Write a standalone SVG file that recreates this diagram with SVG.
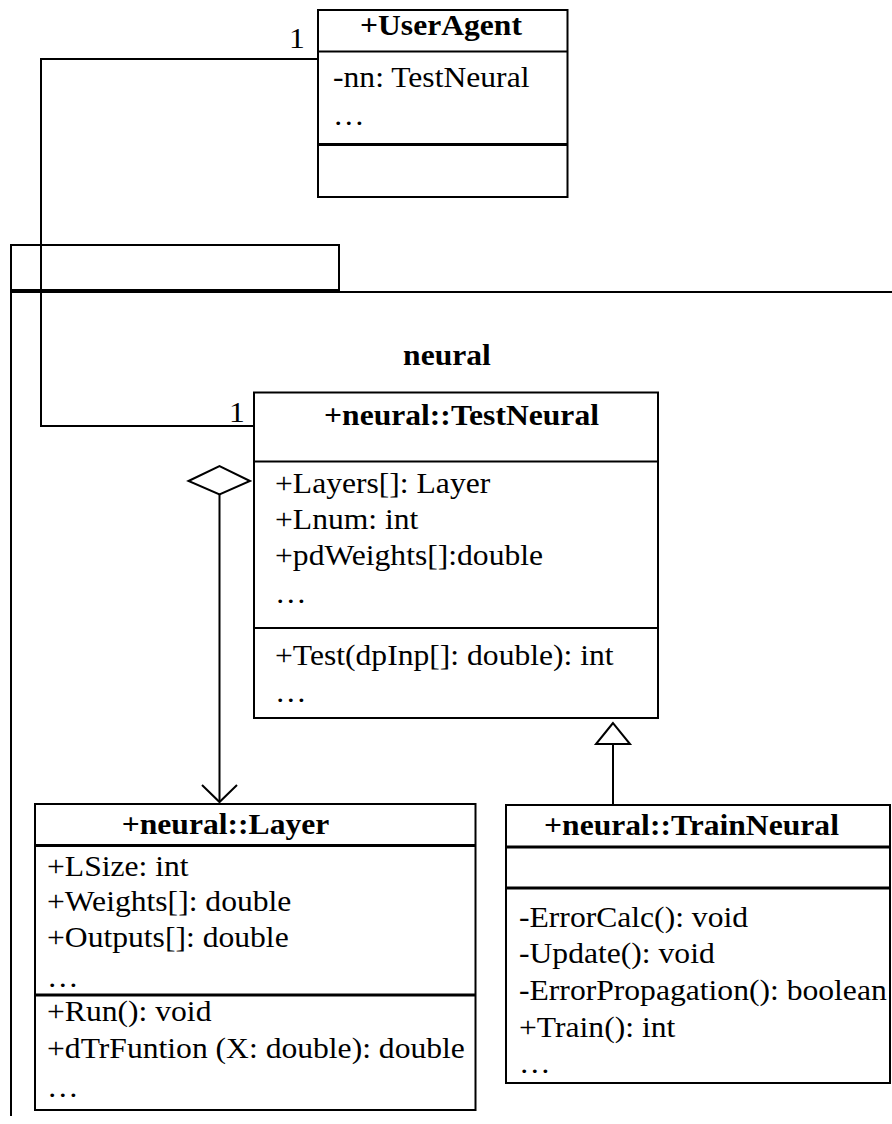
<svg xmlns="http://www.w3.org/2000/svg" width="892" height="1124" viewBox="0 0 892 1124">
  <style>
    .box { fill: #ffffff; stroke: #000000; stroke-width: 2; }
    .div { stroke: #000000; stroke-width: 2; fill: none; }
    .thick { stroke: #000000; stroke-width: 3; fill: none; }
    .line { stroke: #000000; stroke-width: 2; fill: none; }
    .t { font-family: "Liberation Serif", "Times New Roman", serif; font-size: 29px; fill: #000000; }
    .b { font-family: "Liberation Serif", "Times New Roman", serif; font-size: 29px; font-weight: bold; fill: #000000; text-anchor: middle; }
  </style>

  <!-- package frame "neural" -->
  <g id="package-neural">
    <rect x="11" y="245" width="328" height="46" class="box"/>
    <line x1="10" y1="292" x2="892" y2="292" class="line"/>
    <line x1="10" y1="290.5" x2="339" y2="290.5" class="thick"/>
    <line x1="11" y1="245" x2="11" y2="1116" class="line"/>
    <text class="b" transform="translate(447,365) scale(1.09,1)">neural</text>
  </g>

  <!-- connectors -->
  <g id="connectors">
    <!-- association UserAgent - TestNeural -->
    <polyline points="318,59 41,59 41,426 254,426" class="line"/>
    <text class="t" transform="translate(289,48) scale(1.09,1)">1</text>
    <text class="t" transform="translate(229,422) scale(1.09,1)">1</text>
    <!-- aggregation TestNeural - Layer -->
    <polygon points="188.5,481 219.5,466 250,481 219.5,494.5" fill="#ffffff" stroke="#000000" stroke-width="2"/>
    <line x1="219.5" y1="494.5" x2="219.5" y2="802" class="line"/>
    <polyline points="202,785 219.5,802 237,785" class="line"/>
    <!-- generalization TrainNeural -> TestNeural -->
    <line x1="613" y1="744" x2="613" y2="805" class="line"/>
    <polygon points="613,723 596,744 630,744" fill="#ffffff" stroke="#000000" stroke-width="2"/>
  </g>

  <!-- +UserAgent -->
  <g id="UserAgent">
    <rect x="318" y="10" width="249.5" height="187" class="box"/>
    <line x1="318" y1="51.5" x2="567.5" y2="51.5" class="div"/>
    <line x1="318" y1="144.5" x2="567.5" y2="144.5" class="thick"/>
    <text class="b" transform="translate(441,35) scale(1.09,1)">+UserAgent</text>
    <text class="t" transform="translate(333,87) scale(1.09,1)">-nn: TestNeural</text>
    <text class="t" transform="translate(333,125) scale(1.09,1)">…</text>
  </g>

  <!-- +neural::TestNeural -->
  <g id="TestNeural">
    <rect x="254" y="392.5" width="404" height="325.5" class="box"/>
    <line x1="254" y1="461.5" x2="658" y2="461.5" class="div"/>
    <line x1="254" y1="628" x2="658" y2="628" class="div"/>
    <text class="b" transform="translate(461.5,425) scale(1.09,1)">+neural::TestNeural</text>
    <text class="t" transform="translate(275,493) scale(1.09,1)">+Layers[]: Layer</text>
    <text class="t" transform="translate(275,529) scale(1.09,1)">+Lnum: int</text>
    <text class="t" transform="translate(275,565) scale(1.09,1)">+pdWeights[]:double</text>
    <text class="t" transform="translate(275,603) scale(1.09,1)">…</text>
    <text class="t" transform="translate(275,665) scale(1.09,1)">+Test(dpInp[]: double): int</text>
    <text class="t" transform="translate(275,702) scale(1.09,1)">…</text>
  </g>

  <!-- +neural::Layer -->
  <g id="Layer">
    <rect x="35" y="804" width="440.5" height="306" class="box"/>
    <line x1="35" y1="845.5" x2="475.5" y2="845.5" class="thick"/>
    <line x1="35" y1="995" x2="475.5" y2="995" class="thick"/>
    <text class="b" transform="translate(225.5,834) scale(1.09,1)">+neural::Layer</text>
    <text class="t" transform="translate(47,876) scale(1.09,1)">+LSize: int</text>
    <text class="t" transform="translate(47,911) scale(1.09,1)">+Weights[]: double</text>
    <text class="t" transform="translate(47,947) scale(1.09,1)">+Outputs[]: double</text>
    <text class="t" transform="translate(47,987) scale(1.09,1)">…</text>
    <text class="t" transform="translate(47,1021) scale(1.09,1)">+Run(): void</text>
    <text class="t" transform="translate(47,1058) scale(1.09,1)">+dTrFuntion (X: double): double</text>
    <text class="t" transform="translate(47,1097) scale(1.09,1)">…</text>
  </g>

  <!-- +neural::TrainNeural -->
  <g id="TrainNeural">
    <rect x="506" y="805" width="384" height="278" class="box"/>
    <line x1="506" y1="847" x2="890" y2="847" class="thick"/>
    <line x1="506" y1="888" x2="890" y2="888" class="thick"/>
    <text class="b" transform="translate(691.5,835) scale(1.09,1)">+neural::TrainNeural</text>
    <text class="t" transform="translate(519,927) scale(1.09,1)">-ErrorCalc(): void</text>
    <text class="t" transform="translate(519,963) scale(1.09,1)">-Update(): void</text>
    <text class="t" transform="translate(519,1000) scale(1.09,1)">-ErrorPropagation(): boolean</text>
    <text class="t" transform="translate(519,1037) scale(1.09,1)">+Train(): int</text>
    <text class="t" transform="translate(519,1073) scale(1.09,1)">…</text>
  </g>
</svg>
